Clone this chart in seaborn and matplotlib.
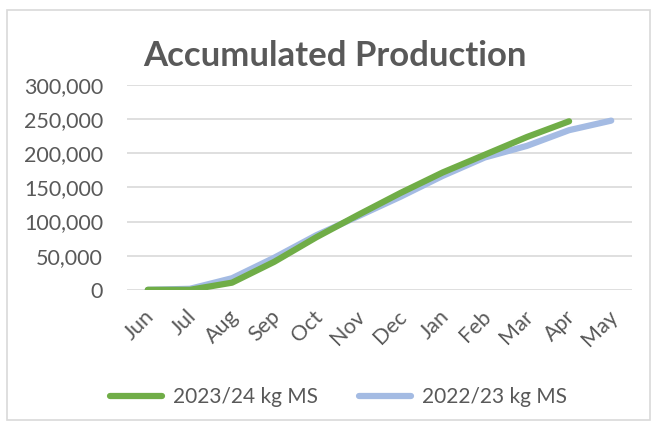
import matplotlib
matplotlib.use('Agg')
import matplotlib.pyplot as plt
import matplotlib.transforms as mtransforms
import numpy as np
import pandas as pd
import seaborn as sns
from matplotlib.lines import Line2D
from matplotlib.patches import Rectangle

# Data
months = ['Jun', 'Jul', 'Aug', 'Sep', 'Oct', 'Nov', 'Dec', 'Jan', 'Feb', 'Mar', 'Apr', 'May']
prod_2324 = [0, 0, 10500, 41000, 77000, 110000, 142000, 172000, 198000, 224000, 247000, np.nan]
prod_2223 = [0, 1500, 17000, 47000, 80000, 108000, 136500, 167000, 194000, 211000, 234000, 248000]
series_names = ['2023/24 kg MS', '2022/23 kg MS']
colors = {'2023/24 kg MS': '#70AD47', '2022/23 kg MS': '#A4BBE3'}

df = pd.DataFrame({
    'month': months * 2,
    'pos': list(range(len(months))) * 2,
    'value': prod_2324 + prod_2223,
    'series': [series_names[0]] * len(months) + [series_names[1]] * len(months),
})

sns.set_style('white')
plt.rcParams['font.family'] = ['Lato', 'DejaVu Sans']
text_color = '#595959'

fig = plt.figure(figsize=(6.6, 4.3), dpi=100)
ax = fig.add_axes([0.192, 0.326, 0.766, 0.476])

# blue first so green sits on top
for name in [series_names[1], series_names[0]]:
    sns.lineplot(
        data=df[df['series'] == name].dropna(),
        x='pos',
        y='value',
        color=colors[name],
        linewidth=4.5,
        solid_capstyle='round',
        solid_joinstyle='round',
        ax=ax,
        legend=False,
    )

ax.set_xlim(-0.5, len(months) - 0.5)
ax.set_ylim(0, 300000)
ax.set_yticks(range(0, 300001, 50000))
ax.set_yticklabels([f'{v:,}' for v in range(0, 300001, 50000)], fontsize=15.5, color=text_color)
ax.set_xticks(range(len(months)))
ax.set_xticklabels(months, rotation=45, ha='right', rotation_mode='anchor', fontsize=15.5, color=text_color)
ax.tick_params(axis='y', length=0, pad=17)
ax.tick_params(axis='x', length=0, pad=12)
shift = mtransforms.ScaledTranslation(-4 / 100, 0, fig.dpi_scale_trans)
for lbl in ax.get_xticklabels():
    lbl.set_transform(lbl.get_transform() + shift)
ax.grid(axis='y', color='#D9D9D9', linewidth=1.2)
ax.set_axisbelow(True)
for s in ax.spines.values():
    s.set_visible(False)
ax.set_xlabel('')
ax.set_ylabel('')

fig.text(0.508, 0.87, 'Accumulated Production', ha='center', va='center',
         fontsize=25, fontweight='bold', color=text_color)

handles = [Line2D([0], [0], color=colors[n], linewidth=4.5, solid_capstyle='round') for n in series_names]
fig.legend(handles, series_names, loc='center', bbox_to_anchor=(0.513, 0.077), ncol=2,
           frameon=False, fontsize=15, labelcolor=text_color, handlelength=2.5,
           columnspacing=2.0, handletextpad=0.5)

# chart border
fig.patches.append(Rectangle((7 / 660, 10 / 430), 643 / 660, 410 / 430, transform=fig.transFigure,
                             fill=False, edgecolor='#D9D9D9', linewidth=1.2))

fig.savefig('out.png', dpi=100)
